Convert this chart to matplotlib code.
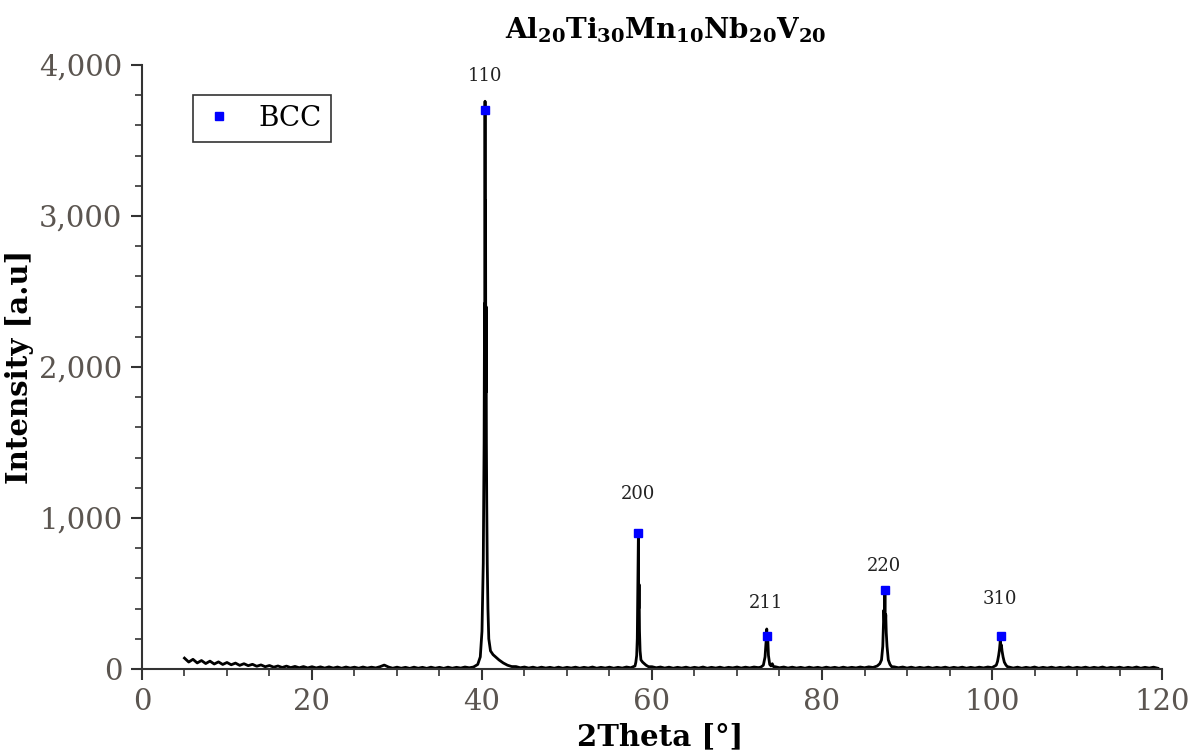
import numpy as np
import matplotlib
matplotlib.use("Agg")
import matplotlib.pyplot as plt
from matplotlib.ticker import MultipleLocator, FuncFormatter

plt.rcParams['font.family'] = ['DejaVu Serif']
plt.rcParams['mathtext.fontset'] = 'dejavuserif'

# --- baseline (hand read, 0.5 deg steps) ---
base1_start, base1_int = 5.0, [72, 46, 64, 40, 56, 36, 52, 33, 47, 30, 43, 28, 39, 24, 35, 22,
                               31, 18, 27, 15, 23, 12, 20, 10, 19, 9, 17, 8, 16, 7, 15, 7,
                               14, 6, 14, 6, 13, 5, 13, 6, 12, 5, 13, 6, 12, 7, 15, 26,
                               13, 5, 12, 5, 11, 4, 12, 5, 11, 4, 12, 5, 11, 4, 12, 5,
                               11, 6, 13, 8]
base2_start, base2_int = 44.0, [16, 8, 13, 6, 12, 5, 12, 6, 11, 5, 12, 5, 11, 6, 12, 5,
                                11, 6, 13, 5, 11, 6, 12, 5, 11, 6, 13, 8]
base3_start, base3_int = 60.0, [15, 8, 13, 6, 12, 5, 11, 6, 12, 5, 11, 6, 13, 5, 11, 6,
                                12, 5, 11, 7, 13, 6, 12, 7, 13, 9]
base4_start, base4_int = 74.5, [15, 8, 13, 6, 12, 6, 11, 5, 12, 6, 11, 5, 12, 6, 11, 5,
                                12, 6, 11, 7, 13, 8, 14, 10]
base5_start, base5_int = 88.5, [14, 8, 13, 6, 12, 5, 11, 6, 12, 5, 11, 6, 12, 5, 11, 6,
                                12, 5, 11, 6, 12, 7, 13, 9]
base6_start, base6_int = 102.0, [13, 6, 12, 5, 11, 6, 13, 5, 11, 6, 12, 5, 11, 6, 13, 5,
                                 11, 6, 12, 5, 11, 6, 13, 5, 11, 6, 12, 5, 11, 6, 13, 5,
                                 11, 6, 12, 5]

# --- peak profiles (hand read) ---
p110_x = [39.0, 39.5, 39.8, 40.0, 40.15, 40.25, 40.3, 40.33, 40.36, 40.39, 40.42, 40.45,
          40.48, 40.52, 40.56, 40.62, 40.7, 40.8, 41.0, 41.3, 41.6, 42.0, 42.5, 43.0, 43.5]
p110_y = [13, 30, 80, 250, 700, 1500, 2420, 1300, 3760, 2100, 3100, 1830, 2400, 1500, 1100,
          700, 400, 200, 120, 95, 80, 60, 40, 25, 16]
p200_x = [58.0, 58.1, 58.2, 58.27, 58.32, 58.36, 58.4, 58.44, 58.48, 58.53, 58.6, 58.7,
          58.9, 59.1, 59.3, 59.6]
p200_y = [20, 45, 90, 200, 450, 620, 895, 400, 560, 250, 120, 60, 45, 35, 25, 15]
p211_x = [72.8, 73.1, 73.3, 73.42, 73.5, 73.55, 73.62, 73.7, 73.85, 74.0, 74.15, 74.3]
p211_y = [12, 25, 80, 180, 265, 160, 200, 90, 30, 20, 35, 15]
p220_x = [86.5, 86.8, 87.0, 87.15, 87.28, 87.35, 87.4, 87.45, 87.5, 87.56, 87.65, 87.8,
          88.0, 88.2]
p220_y = [20, 35, 60, 150, 390, 300, 520, 280, 360, 240, 150, 60, 30, 15]
p310_x = [100.5, 100.65, 100.78, 100.88, 100.97, 101.03, 101.1, 101.18, 101.3, 101.45,
          101.65, 101.85]
p310_y = [25, 50, 90, 130, 185, 140, 160, 120, 80, 45, 25, 13]

# --- BCC markers and labels ---
bcc_x = [40.4, 58.4, 73.5, 87.4, 101.0]
bcc_y = [3700, 900, 220, 520, 220]
hkl_labels = ['110', '200', '211', '220', '310']
hkl_y = [3930, 1160, 440, 680, 465]

xs, ys = [], []
for start, vals in [(base1_start, base1_int), (base2_start, base2_int),
                    (base3_start, base3_int), (base4_start, base4_int),
                    (base5_start, base5_int), (base6_start, base6_int)]:
    xs.extend(start + 0.5 * np.arange(len(vals)))
    ys.extend(vals)
for px, py in [(p110_x, p110_y), (p200_x, p200_y), (p211_x, p211_y),
               (p220_x, p220_y), (p310_x, p310_y)]:
    xs.extend(px)
    ys.extend(py)
xs = np.array(xs)
ys = np.array(ys)
order = np.argsort(xs)
xs, ys = xs[order], ys[order]

fig = plt.figure(figsize=(11.95, 7.56), dpi=100)
ax = fig.add_axes([0.1188, 0.1151, 0.8536, 0.7989])

ax.plot(xs, ys, color='black', lw=2.0)
ax.plot(bcc_x, bcc_y, 's', color='#0000ff', ms=6, ls='none', label='BCC')
for x, y, t in zip(bcc_x, hkl_y, hkl_labels):
    ax.text(x - 0.1, y, t, ha='center', va='center', fontsize=13, color='#222222')

ax.set_xlim(0, 120)
ax.set_ylim(0, 4000)
ax.xaxis.set_major_locator(MultipleLocator(20))
ax.xaxis.set_minor_locator(MultipleLocator(5))
ax.yaxis.set_major_locator(MultipleLocator(1000))
ax.yaxis.set_minor_locator(MultipleLocator(200))
ax.yaxis.set_major_formatter(FuncFormatter(lambda v, p: f'{int(v):,}'))

for s in ['top', 'right']:
    ax.spines[s].set_visible(False)
for s in ['left', 'bottom']:
    ax.spines[s].set_linewidth(1.5)
    ax.spines[s].set_color('#333333')
ax.tick_params(which='major', length=8, width=1.5, color='#333333',
               labelsize=21, labelcolor='#5b5550', pad=6)
ax.tick_params(which='minor', length=5, width=1.2, color='#333333')

ax.set_xlabel('2Theta [°]', fontsize=21, fontweight='bold', labelpad=4)
ax.xaxis.label.set_x(0.508)
ax.set_ylabel('Intensity [a.u]', fontsize=21, fontweight='bold', labelpad=4)
ax.set_title(r'$\mathbf{Al_{20}Ti_{30}Mn_{10}Nb_{20}V_{20}}$', fontsize=20, pad=19, x=0.513)

leg = ax.legend(loc='upper left', bbox_to_anchor=(0.05, 0.95), fontsize=20,
                fancybox=False, edgecolor='#333333', framealpha=1, borderaxespad=0,
                handlelength=1.2, handletextpad=0.8, borderpad=0.35, markerscale=1)
leg.get_frame().set_linewidth(1.2)

fig.savefig('out.png', dpi=100)
